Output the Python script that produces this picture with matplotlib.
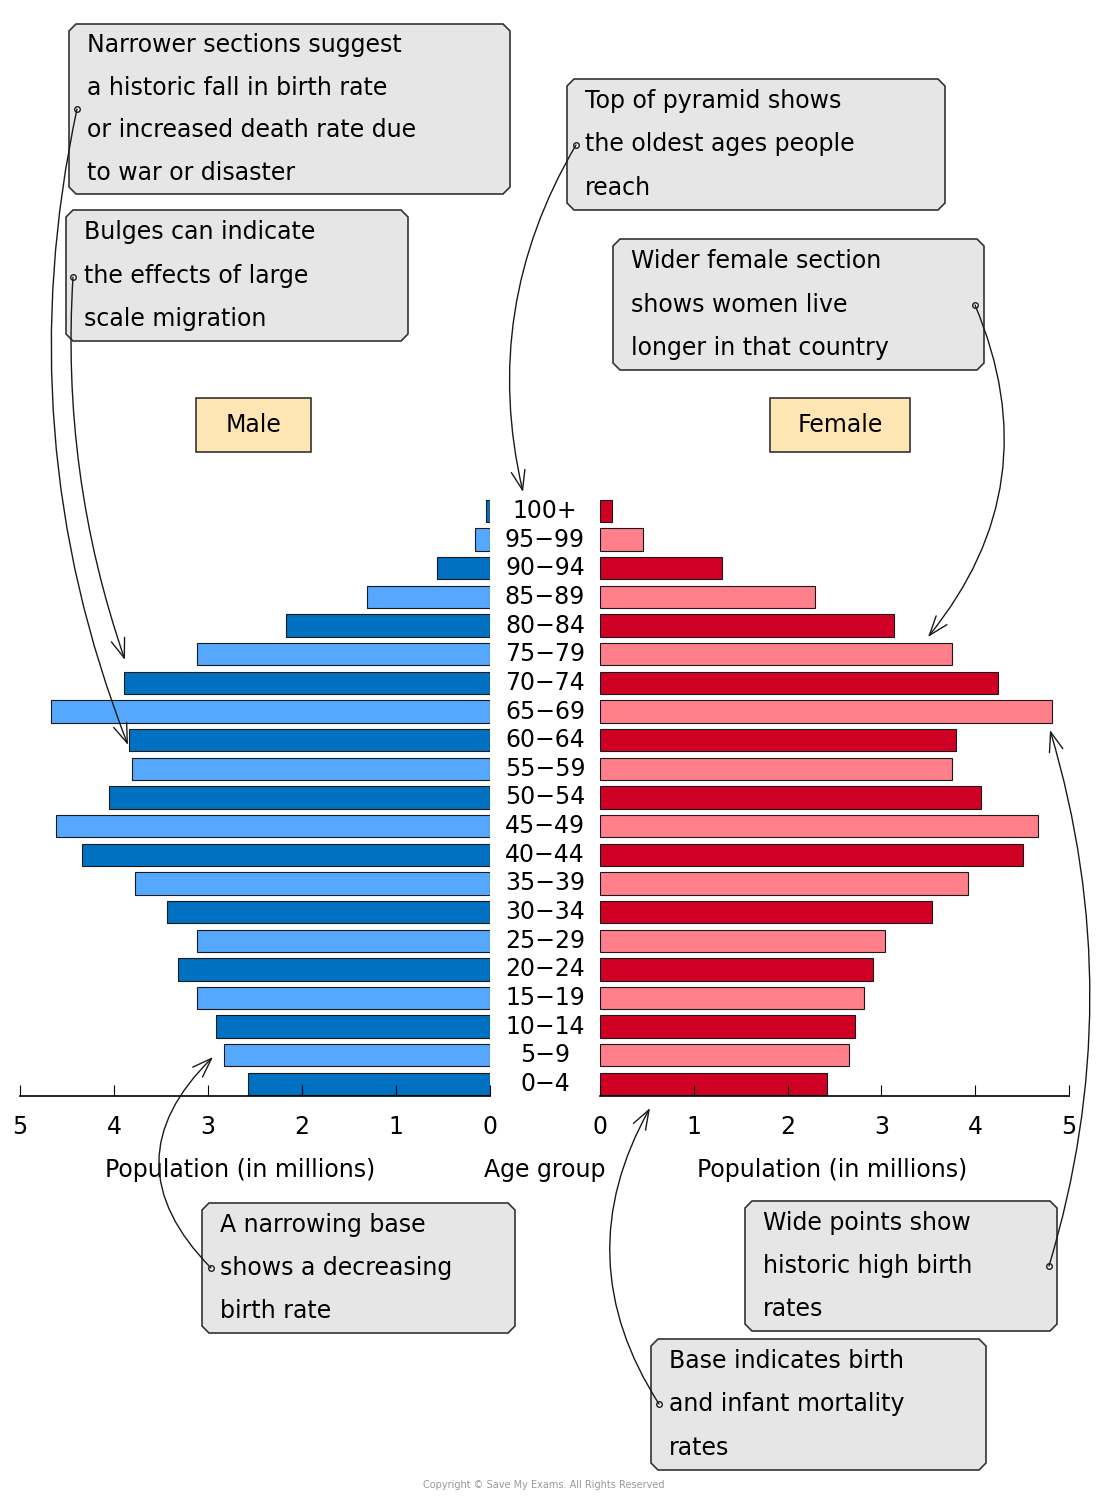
import matplotlib
matplotlib.use("Agg")
import matplotlib.pyplot as plt
from matplotlib.patches import Polygon
import numpy as np

ages = ["0-4", "5-9", "10-14", "15-19", "20-24", "25-29", "30-34", "35-39", "40-44", "45-49",
        "50-54", "55-59", "60-64", "65-69", "70-74", "75-79", "80-84", "85-89", "90-94", "95-99", "100+"]
male = [2.57, 2.83, 2.91, 3.12, 3.32, 3.12, 3.44, 3.78, 4.34, 4.62,
        4.05, 3.81, 3.84, 4.67, 3.89, 3.12, 2.17, 1.31, 0.56, 0.16, 0.04]
female = [2.42, 2.65, 2.72, 2.81, 2.91, 3.04, 3.54, 3.92, 4.51, 4.67,
          4.06, 3.75, 3.80, 4.82, 4.24, 3.75, 3.13, 2.29, 1.30, 0.46, 0.13]

W, H = 1100, 1498
plt.rcParams['font.family'] = ['DejaVu Sans']
fig = plt.figure(figsize=(11, 14.98), dpi=100)

def frac(x0, y0, x1, y1):
    return [x0 / W, 1 - y1 / H, (x1 - x0) / W, (y1 - y0) / H]

pos = np.arange(len(ages))
ylim = (-0.42, 20.52)
m_cols = ['#0070c0' if i % 2 == 0 else '#56a8ff' for i in pos]
f_cols = ['#d00024' if i % 2 == 0 else '#ff7f8a' for i in pos]

axl = fig.add_axes(frac(20, 496, 490, 1096))
axl.barh(pos, male, height=0.78, color=m_cols, edgecolor='#1a1a1a', linewidth=0.8)
axl.set_xlim(5, 0)
axr = fig.add_axes(frac(600, 496, 1069, 1096))
axr.barh(pos, female, height=0.78, color=f_cols, edgecolor='#1a1a1a', linewidth=0.8)
axr.set_xlim(0, 5)
for a in (axl, axr):
    a.set_ylim(*ylim)
    a.set_yticks([])
    for s in ('top', 'left', 'right'):
        a.spines[s].set_visible(False)
    a.spines['bottom'].set_linewidth(1.2)
    a.set_xticks(range(6))
    a.tick_params(axis='x', direction='in', length=8, labelsize=17, pad=14)
    a.patch.set_alpha(0)

ov = fig.add_axes([0, 0, 1, 1])
ov.set_xlim(0, W)
ov.set_ylim(H, 0)
ov.axis('off')
ov.patch.set_alpha(0)

for i, a in enumerate(ages):
    y = 1084 - i * 28.65
    ov.text(545, y, a.replace('-', '\u2212'), ha='center', va='center', fontsize=17)

ov.text(240, 1170, "Population (in millions)", ha='center', va='center', fontsize=17)
ov.text(545, 1170, "Age group", ha='center', va='center', fontsize=17)
ov.text(832, 1170, "Population (in millions)", ha='center', va='center', fontsize=17)

def box(x0, y0, x1, y1, lines, fc='#e6e6e6', c=7, center=False):
    pts = [(x0 + c, y0), (x1 - c, y0), (x1, y0 + c), (x1, y1 - c), (x1 - c, y1),
           (x0 + c, y1), (x0, y1 - c), (x0, y0 + c)]
    ov.add_patch(Polygon(pts, closed=True, fc=fc, ec='#333333', lw=1.2))
    if center:
        ov.text((x0 + x1) / 2, (y0 + y1) / 2, lines[0], ha='center', va='center', fontsize=17)
    else:
        n = len(lines)
        step = (y1 - y0) / n
        for k, t in enumerate(lines):
            ov.text(x0 + 18, y0 + step * (k + 0.5), t, ha='left', va='center', fontsize=17)

box(69, 24, 510, 194, ["Narrower sections suggest", "a historic fall in birth rate",
                        "or increased death rate due", "to war or disaster"])
box(66, 210, 408, 341, ["Bulges can indicate", "the effects of large", "scale migration"])
box(567, 79, 945, 210, ["Top of pyramid shows", "the oldest ages people", "reach"])
box(613, 239, 984, 370, ["Wider female section", "shows women live", "longer in that country"])
box(202, 1203, 515, 1333, ["A narrowing base", "shows a decreasing", "birth rate"])
box(745, 1201, 1057, 1331, ["Wide points show", "historic high birth", "rates"])
box(651, 1339, 986, 1470, ["Base indicates birth", "and infant mortality", "rates"])
box(196, 398, 311, 452, ["Male"], fc='#fde5b4', c=0, center=True)
box(770, 398, 910, 452, ["Female"], fc='#fde5b4', c=0, center=True)

arrows = [((77, 109), (128, 745), 0.15), ((73, 277), (125, 660), 0.1),
          ((576, 145), (523, 492), 0.2), ((975, 305), (928, 637), -0.3),
          ((211, 1268), (213, 1057), -0.5), ((1049, 1266), (1050, 730), 0.15),
          ((659, 1404), (650, 1108), -0.3)]
for s, e, r in arrows:
    ov.annotate("", xy=e, xytext=s,
                arrowprops=dict(arrowstyle='->,head_length=1.4,head_width=0.5', lw=1.0,
                                color='#1a1a1a', connectionstyle=f"arc3,rad={r}",
                                shrinkA=0, shrinkB=0))
    ov.plot(*s, 'o', ms=4, mfc='white', mec='#1a1a1a', mew=1)

ov.text(544, 1485, "Copyright \u00a9 Save My Exams. All Rights Reserved", ha='center',
        va='center', fontsize=7, color='#999999')

fig.savefig("out.png", dpi=100)
